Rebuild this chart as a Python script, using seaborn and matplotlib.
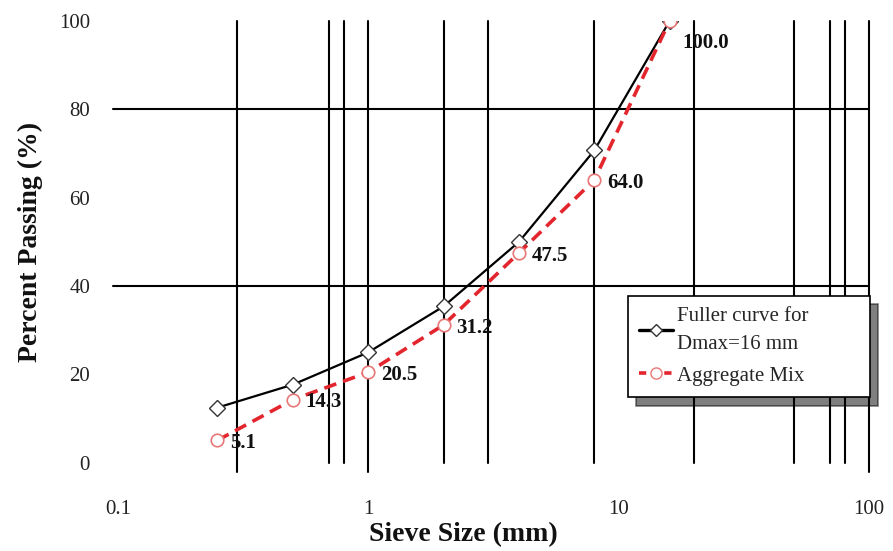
import matplotlib
matplotlib.use("Agg")
import matplotlib.pyplot as plt
import seaborn as sns
import pandas as pd
from matplotlib.lines import Line2D

# ---- data ----
sieve_sizes = [0.25, 0.5, 1, 2, 4, 8, 16]
fuller_curve = [12.5, 17.7, 25.0, 35.4, 50.0, 70.7, 100.0]
aggregate_mix = [5.1, 14.3, 20.5, 31.2, 47.5, 64.0, 100.0]
mix_labels = ["5.1", "14.3", "20.5", "31.2", "47.5", "64.0", "100.0"]
x_ticks = [0.1, 1, 10, 100]
x_tick_labels = ["0.1", "1", "10", "100"]
y_ticks = [0, 20, 40, 60, 80, 100]
v_grid = [0.3, 0.7, 0.8, 1, 2, 3, 8, 20, 50, 70, 80, 100]
v_grid_long = [0.3, 1, 100]
h_grid = [40, 80]
series_names = ["Fuller curve for\nDmax=16 mm", "Aggregate Mix"]

sns.set_theme(style="white")
plt.rcParams["font.family"] = ["Liberation Serif", "DejaVu Serif"]

fig = plt.figure(figsize=(8.93, 5.51), dpi=100)
ax = fig.add_axes([0.132, 0.160, 0.841, 0.802])

df = pd.DataFrame({"size": sieve_sizes, "fuller": fuller_curve, "mix": aggregate_mix})

# grid lines
for v in v_grid:
    lo = -2 if v in v_grid_long else 0
    ax.plot([v, v], [lo, 100], color="black", lw=1.5, clip_on=False, zorder=1)
for h in h_grid:
    ax.plot([0.0955, 100], [h, h], color="black", lw=1.5, clip_on=False, zorder=1)

sns.lineplot(data=df, x="size", y="fuller", ax=ax, color="black", lw=1.6,
             marker="D", markersize=8, markerfacecolor="white",
             markeredgecolor="#333333", markeredgewidth=1.0, zorder=3)
sns.lineplot(data=df, x="size", y="mix", ax=ax, color="#e3262e", lw=2.6,
             linestyle=(0, (3.5, 2)), marker="o", markersize=9,
             markerfacecolor="white", markeredgecolor="#e87878",
             markeredgewidth=1.2, zorder=4)

for i, (xv, yv, lab) in enumerate(zip(sieve_sizes, aggregate_mix, mix_labels)):
    if i == len(sieve_sizes) - 1:
        off = (9, -16)
    else:
        off = (9, -2)
    ax.annotate(lab, (xv, yv), xytext=off, textcoords="offset points",
                ha="left", va="center", fontsize=15, fontweight="bold",
                color="#111111", zorder=5)

ax.set_xscale("log")
ax.set_xlim(0.1, 100)
ax.set_ylim(0, 100)
ax.set_xticks(x_ticks)
ax.set_xticklabels(x_tick_labels)
ax.minorticks_off()
ax.set_yticks(y_ticks)
ax.tick_params(axis="x", length=0, pad=27, labelsize=15, colors="#222222")
ax.tick_params(axis="y", length=0, pad=20, labelsize=15, colors="#222222")
for s in ax.spines.values():
    s.set_visible(False)
ax.grid(False)

ax.set_xlabel("Sieve Size (mm)", fontsize=20, fontweight="bold", color="#111111")
ax.set_ylabel("Percent Passing (%)", fontsize=20, fontweight="bold", color="#111111")
ax.xaxis.set_label_coords(0.46, -0.135)
ax.yaxis.set_label_coords(-0.1, 0.5)

handles = [
    Line2D([], [], color="black", lw=2.4, marker="D", markersize=6,
           markerfacecolor="white", markeredgecolor="#333333"),
    Line2D([], [], color="#e3262e", lw=2.6, linestyle=(0, (2, 1.5)), marker="o",
           markersize=8, markerfacecolor="white", markeredgecolor="#e87878"),
]
leg = ax.legend(handles, series_names, loc="upper left", mode="expand",
                bbox_to_anchor=(0.679, 0.378, 0.322, 0.0), fontsize=15,
                frameon=True, fancybox=False, edgecolor="black", framealpha=1,
                handlelength=1.6, handletextpad=0.2, borderpad=0.55,
                labelspacing=0.6, borderaxespad=0,
                shadow={"ox": 6, "oy": -6, "color": "black", "alpha": 0.5})
for t in leg.get_texts():
    t.set_linespacing(1.6)
leg.get_frame().set_linewidth(1.2)
leg.set_zorder(10)

fig.savefig("out.png", dpi=100)
